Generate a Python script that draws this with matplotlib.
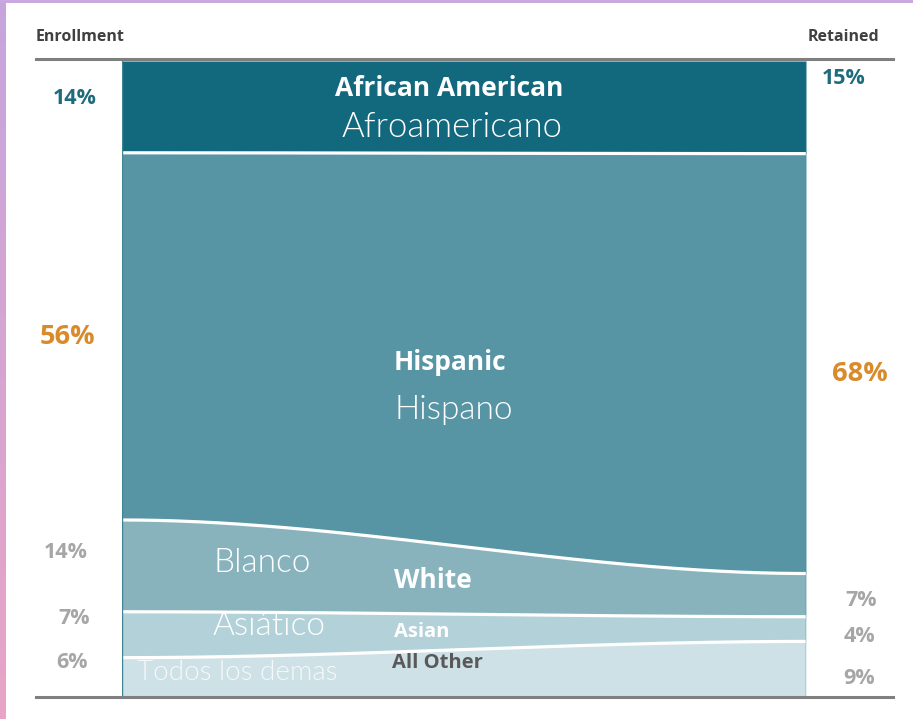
import matplotlib
matplotlib.use("Agg")
import matplotlib.pyplot as plt
import matplotlib.font_manager as fm
import numpy as np

W, H = 913, 719

groups_en = ["African American", "Hispanic", "White", "Asian", "All Other"]
groups_es = ["Afroamericano", "Hispano", "Blanco", "Asiático", "Todos los demas"]
enrollment = [14, 56, 14, 7, 6]
retained = [15, 68, 7, 4, 9]

band_colors = ["#12687c", "#5795a5", "#88b3bd", "#b3d1d8", "#cee1e6"]
pct_colors = ["#1f6b7e", "#d98a2b", "#a6a6a6", "#a6a6a6", "#a6a6a6"]

BOLD = "Open Sans"

# a 300-weight face for the Spanish names, if one is installed
light_face = None
for fam in ["Lato", "Open Sans", "Roboto", "Inter", "Noto Sans"]:
    hits = [f for f in fm.fontManager.ttflist
            if f.name == fam and f.weight == 300 and f.style == "normal"]
    if hits:
        light_face = hits[0].fname
        break


def light_props(size):
    if light_face:
        return fm.FontProperties(fname=light_face, size=size)
    return fm.FontProperties(family="Lato", weight="normal", size=size)


def px(x, y):
    return x / W, 1 - y / H


def cum_edges(vals):
    v = np.array(vals, dtype=float)
    v = v / v.sum() * 100
    return np.concatenate([[0], np.cumsum(v)])


fig = plt.figure(figsize=(W / 100, H / 100), dpi=100)
fig.patch.set_facecolor("white")

# flow area between the two columns
l, b = px(122, 697)
r, t = px(806, 61)
ax = fig.add_axes([l, b, r - l, t - b])
ax.set_xlim(0, 1)
ax.set_ylim(100, 0)
ax.axis("off")

x = np.linspace(0, 1, 300)
ease = 3 * x ** 2 - 2 * x ** 3
e_left = cum_edges(enrollment)
e_right = cum_edges(retained)
edges = [el + (er - el) * ease for el, er in zip(e_left, e_right)]

for i, c in enumerate(band_colors):
    ax.fill_between(x, edges[i], edges[i + 1], color=c, lw=0)
for i in range(1, len(band_colors)):
    ax.plot(x, edges[i], color="white", lw=2.3, solid_capstyle="butt")
ax.axvline(0, color="#3f8494", lw=1)
ax.axvline(1, color="#3f8494", lw=1)

# header / footer rules
over = fig.add_axes([0, 0, 1, 1], facecolor="none")
over.set_xlim(0, W)
over.set_ylim(H, 0)
over.axis("off")
over.plot([36, 893], [58.5, 58.5], color="#7f7f7f", lw=2.2)
over.plot([36, 893], [697, 697], color="#7f7f7f", lw=2.2)

# left border gradient and top strip
grad = fig.add_axes([0, 0, 5 / W, 1])
grad.imshow(np.linspace(0, 1, 256).reshape(-1, 1), aspect="auto",
            cmap=matplotlib.colors.LinearSegmentedColormap.from_list(
                "edge", ["#c6a6de", "#e8a4c6"]))
grad.axis("off")
topbar = fig.add_axes([0, 1 - 3 / H, 1, 3 / H])
topbar.set_facecolor("#c8a8de")
topbar.set_xticks([]); topbar.set_yticks([])
for s in topbar.spines.values():
    s.set_visible(False)

fig.text(*px(36, 37), "Enrollment", family=BOLD, weight="bold", fontsize=11.5,
         color="#404040", ha="left", va="center")
fig.text(*px(879, 37), "Retained", family=BOLD, weight="bold", fontsize=11.5,
         color="#404040", ha="right", va="center")

# percentage labels
left_pos = [(75, 99), (67, 337), (66, 552), (74, 618), (72, 662)]
right_pos = [(844, 79), (860, 374), (861, 601), (859, 636), (859, 678)]
sizes = [15.5, 19.5, 15.5, 15.5, 15.5]
for i in range(len(groups_en)):
    fig.text(*px(*left_pos[i]), f"{enrollment[i]}%", family=BOLD, weight="bold",
             fontsize=sizes[i], color=pct_colors[i], ha="center", va="center")
    fig.text(*px(*right_pos[i]), f"{retained[i]}%", family=BOLD, weight="bold",
             fontsize=sizes[i], color=pct_colors[i], ha="center", va="center")

# group names, English bold and Spanish light
en_pos = [(449, 89, "center", 19, "white"), (394, 362, "left", 19, "white"),
          (394, 580, "left", 19, "white"), (394, 632, "left", 14.5, "white"),
          (392, 663, "left", 14.5, "#595959")]
for name, (xx, yy, ha, fs, col) in zip(groups_en, en_pos):
    fig.text(*px(xx, yy), name, family=BOLD, weight="bold", fontsize=fs,
             color=col, ha=ha, va="center")

es_pos = [(452, 127, "center", 25, 1.0), (394, 410, "left", 24, 1.0),
          (213, 563, "left", 24, 1.0), (213, 626, "left", 24, 1.0),
          (137, 673, "left", 20, 0.8)]
for name, (xx, yy, ha, fs, a) in zip(groups_es, es_pos):
    fig.text(*px(xx, yy), name, fontproperties=light_props(fs),
             color="white", alpha=a, ha=ha, va="center")

fig.savefig("out.png", dpi=100)
